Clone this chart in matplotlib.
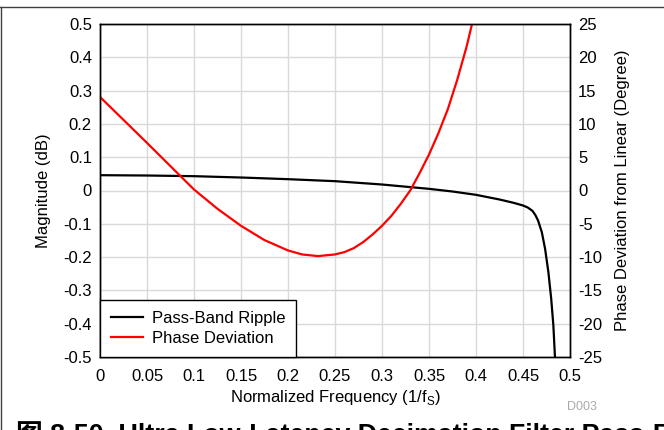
import matplotlib
matplotlib.use("Agg")
import matplotlib.pyplot as plt
from matplotlib.lines import Line2D

plt.rcParams['font.family'] = ['Liberation Sans', 'Noto Sans CJK SC']
plt.rcParams['font.size'] = 12
plt.rcParams['axes.unicode_minus'] = False

# pass-band ripple (left axis, dB)
freq_ripple = [0, 0.05, 0.1, 0.15, 0.2, 0.25, 0.3, 0.35, 0.375, 0.4, 0.425, 0.44,
               0.45, 0.455, 0.46, 0.463, 0.466, 0.47, 0.4735, 0.477, 0.48, 0.4823,
               0.484, 0.486]
ripple_db = [0.046, 0.045, 0.043, 0.039, 0.034, 0.028, 0.018, 0.005, -0.003, -0.013,
             -0.027, -0.037, -0.045, -0.051, -0.061, -0.073, -0.09, -0.125, -0.175,
             -0.245, -0.325, -0.405, -0.5, -0.6]

# phase deviation (right axis, degree)
freq_phase = [0, 0.025, 0.05, 0.075, 0.1, 0.125, 0.15, 0.175, 0.2, 0.215, 0.232, 0.25,
              0.26, 0.27, 0.28, 0.29, 0.3, 0.31, 0.32, 0.33, 0.34, 0.35, 0.36, 0.37,
              0.38, 0.39, 0.4]
phase_deg = [14.05, 10.6, 7.15, 3.65, 0.15, -2.75, -5.3, -7.45, -9.0, -9.6, -9.85, -9.6,
             -9.25, -8.65, -7.75, -6.6, -5.3, -3.8, -2.0, 0.0, 2.6, 5.4, 8.6, 12.2,
             16.6, 21.6, 27.5]

xticks = [0, 0.05, 0.1, 0.15, 0.2, 0.25, 0.3, 0.35, 0.4, 0.45, 0.5]
xtick_labels = ['0', '0.05', '0.1', '0.15', '0.2', '0.25', '0.3', '0.35', '0.4', '0.45', '0.5']
yticks = [-0.5, -0.4, -0.3, -0.2, -0.1, 0, 0.1, 0.2, 0.3, 0.4, 0.5]
ytick_labels = ['-0.5', '-0.4', '-0.3', '-0.2', '-0.1', '0', '0.1', '0.2', '0.3', '0.4', '0.5']
y2ticks = [-25, -20, -15, -10, -5, 0, 5, 10, 15, 20, 25]
y2tick_labels = [str(v) for v in y2ticks]

W, H = 664, 430
fig = plt.figure(figsize=(W / 100, H / 100), dpi=100)
ax = fig.add_axes([100 / W, 1 - 357 / H, 470 / W, 333 / H])
ax2 = ax.twinx()

ax.plot(freq_ripple, ripple_db, color='black', lw=1.6, label='Pass-Band Ripple')
ax2.plot(freq_phase, phase_deg, color='#ff0000', lw=1.6, label='Phase Deviation')

ax.set_xlim(0, 0.5)
ax.set_ylim(-0.5, 0.5)
ax2.set_ylim(-25, 25)
ax.set_xticks(xticks, xtick_labels)
ax.set_yticks(yticks, ytick_labels)
ax2.set_yticks(y2ticks, y2tick_labels)
ax.grid(color='#d9d9d9', lw=1)
ax.set_axisbelow(True)

ax.tick_params(axis='y', length=0, pad=5.8)
ax.tick_params(axis='x', length=0, pad=8.5)
ax2.tick_params(axis='y', length=0, pad=5.8)
for a in (ax, ax2):
    for sp in a.spines.values():
        sp.set_color('black')
        sp.set_linewidth(1.0)

ax.set_xlabel('Normalized Frequency (1/f$_\\mathregular{S}$)', labelpad=3)
ax.set_ylabel('Magnitude (dB)', labelpad=9)
ax2.set_ylabel('Phase Deviation from Linear (Degree)', labelpad=9)

h1, l1 = ax.get_legend_handles_labels()
h2, l2 = ax2.get_legend_handles_labels()
leg = ax2.legend(h1 + h2, l1 + l2, loc='lower left', borderaxespad=0,
                 fancybox=False, edgecolor='black', framealpha=1,
                 handlelength=1.95, handletextpad=0.5, labelspacing=0.33,
                 borderpad=0.65)
leg.get_frame().set_linewidth(1.0)

fig.text(582 / W, 1 - 406.7 / H, 'D003', color='#aaaaaa', fontsize=9,
         ha='center', va='center')
# caption runs off the bottom edge, as in the source page
fig.text(16 / W, 1 - 443 / H,
         '图 8-50. Ultra Low-Latency Decimation Filter Pass-Band Ripple and Phase Deviation',
         fontsize=19.3, fontweight='bold', va='baseline')

# page frame
fig.add_artist(Line2D([0, 1], [1 - 7 / H] * 2, transform=fig.transFigure,
                      color='#404040', lw=1))
fig.add_artist(Line2D([1 / W] * 2, [0, 1 - 7 / H], transform=fig.transFigure,
                      color='#404040', lw=1))

fig.savefig('out.png', dpi=100)
